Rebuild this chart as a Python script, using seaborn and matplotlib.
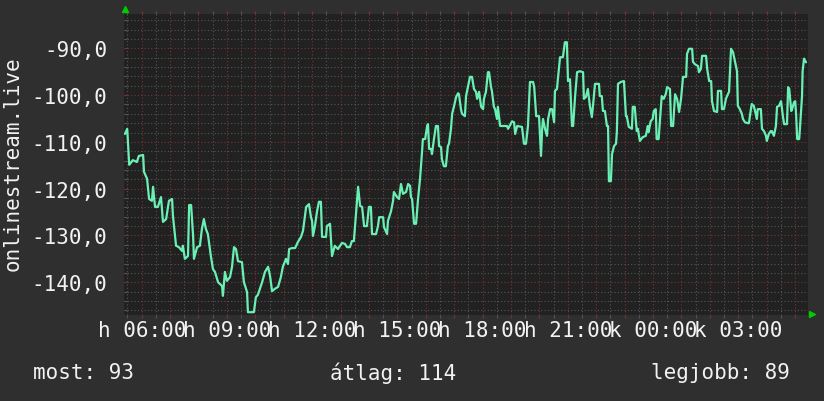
import numpy as np
import pandas as pd
import matplotlib
matplotlib.use("Agg")
import matplotlib.pyplot as plt
from matplotlib.ticker import MultipleLocator, FixedLocator
import seaborn as sns

# hours since midnight of the first day (24+ = next day)
hours = [
    5.41, 5.49, 5.56, 5.69, 5.83, 5.90, 6.05, 6.08, 6.19, 6.26, 6.36, 6.40, 6.47, 6.57,
    6.68, 6.75, 6.86, 6.96, 7.07, 7.10, 7.21, 7.31, 7.42, 7.45, 7.52, 7.63, 7.67, 7.74,
    7.81, 7.84, 7.95, 8.05, 8.12, 8.19, 8.26, 8.33, 8.44, 8.51, 8.58, 8.69, 8.83, 8.86,
    8.93, 9.00, 9.11, 9.18, 9.25, 9.32, 9.39, 9.53, 9.60, 9.71, 9.74, 9.95, 10.02, 10.09,
    10.24, 10.34, 10.45, 10.52, 10.59, 10.69, 10.80, 10.90, 10.97, 11.08, 11.15, 11.19,
    11.29, 11.40, 11.50, 11.61, 11.68, 11.79, 11.89, 11.96, 12.00, 12.03, 12.10, 12.17,
    12.24, 12.31, 12.35, 12.49, 12.52, 12.63, 12.70, 12.80, 12.91, 13.05, 13.16, 13.23,
    13.33, 13.40, 13.47, 13.54, 13.62, 13.69, 13.76, 13.83, 13.93, 14.00, 14.07, 14.11,
    14.25, 14.32, 14.36, 14.50, 14.53, 14.64, 14.67, 14.78, 14.85, 14.88, 14.99, 15.06,
    15.13, 15.20, 15.31, 15.38, 15.45, 15.48, 15.52, 15.59, 15.66, 15.73, 15.80, 15.87,
    15.90, 15.98, 16.05, 16.08, 16.12, 16.19, 16.22, 16.29, 16.36, 16.43, 16.47, 16.54,
    16.57, 16.64, 16.71, 16.78, 16.82, 16.89, 16.93, 17.00, 17.07, 17.14, 17.17, 17.24,
    17.28, 17.38, 17.42, 17.49, 17.56, 17.63, 17.70, 17.77, 17.81, 17.88, 17.95, 18.02,
    18.05, 18.12, 18.19, 18.23, 18.30, 18.33, 18.40, 18.44, 18.51, 18.54, 18.62, 18.86,
    18.90, 19.04, 19.11, 19.15, 19.22, 19.39, 19.46, 19.53, 19.60, 19.67, 19.78, 19.82,
    19.89, 19.99, 20.06, 20.10, 20.13, 20.20, 20.27, 20.31, 20.38, 20.45, 20.52, 20.55,
    20.62, 20.73, 20.83, 20.90, 20.97, 21.01, 21.08, 21.15, 21.19, 21.26, 21.33, 21.43,
    21.54, 21.57, 21.64, 21.71, 21.78, 21.85, 21.89, 21.96, 22.06, 22.10, 22.13, 22.20,
    22.24, 22.31, 22.38, 22.42, 22.45, 22.52, 22.56, 22.63, 22.70, 22.73, 22.77, 22.87,
    22.98, 23.05, 23.08, 23.15, 23.26, 23.29, 23.36, 23.43, 23.47, 23.54, 23.64, 23.75,
    23.82, 23.85, 23.92, 23.99, 24.03, 24.10, 24.13, 24.20, 24.27, 24.31, 24.38, 24.45,
    24.50, 24.60, 24.64, 24.71, 24.78, 24.85, 24.88, 24.92, 24.99, 25.06, 25.17, 25.20,
    25.27, 25.38, 25.41, 25.48, 25.59, 25.62, 25.69, 25.73, 25.87, 25.91, 25.98, 26.05,
    26.08, 26.15, 26.26, 26.29, 26.40, 26.43, 26.50, 26.57, 26.64, 26.68, 26.75, 26.82,
    26.89, 26.96, 26.99, 27.06, 27.13, 27.17, 27.24, 27.34, 27.38, 27.45, 27.48, 27.55,
    27.62, 27.66, 27.69, 27.80, 27.84, 27.91, 27.98, 28.01, 28.08, 28.15, 28.19, 28.26,
    28.33, 28.37, 28.44, 28.51, 28.58, 28.62, 28.72, 28.76, 28.80, 28.87, 28.90, 28.97,
    29.01, 29.04, 29.08, 29.15, 29.18, 29.25, 29.27, 29.32, 29.39,
]
values = [
    -108.3, -107.2, -114.9, -113.9, -114.3, -113.0, -112.8, -116.4, -117.9, -122.2, -122.6, -119.6, -123.9, -123.9,
    -121.8, -127.1, -126.5, -122.6, -122.2, -125.8, -132.2, -132.5, -133.3, -132.2, -135.0, -134.4, -123.5, -123.5,
    -130.1, -135.0, -132.5, -132.2, -128.6, -126.5, -128.6, -129.7, -134.6, -137.2, -137.8, -140.0, -140.8, -142.9,
    -137.8, -139.7, -138.9, -136.7, -132.5, -132.9, -135.5, -135.7, -140.0, -142.1, -146.4, -146.4, -143.2, -142.7,
    -140.0, -137.8, -136.7, -138.7, -141.9, -141.4, -141.0, -138.9, -136.7, -135.0, -136.1, -132.9,
    -132.7, -132.7, -131.4, -130.3, -129.0, -123.9, -123.3, -126.1, -126.9, -130.1, -128.0, -125.0,
    -122.8, -122.8, -130.3, -130.3, -128.0, -127.5, -134.4, -132.2, -132.9, -131.6, -131.8, -132.5,
    -132.5, -131.2, -131.2, -125.8, -119.6, -123.7, -123.9, -128.0, -128.0, -123.9, -123.9, -129.7,
    -129.7, -128.0, -126.1, -126.1, -128.2, -129.7, -126.9, -124.8, -122.6, -120.7, -121.8, -122.2,
    -119.0, -121.1, -120.7, -119.0, -119.4, -121.8, -122.2, -127.5, -127.5, -122.2, -117.9, -112.2,
    -109.4, -109.4, -106.6, -106.2, -111.5, -111.5, -112.6, -109.4, -106.6, -106.6, -110.9, -111.1,
    -113.7, -115.2, -115.2, -110.9, -110.4, -107.2, -104.0, -102.3, -100.4, -99.6, -99.8, -103.0,
    -104.0, -104.5, -100.2, -98.1, -96.1, -96.1, -98.7, -99.3, -100.8, -99.3, -102.5, -103.0,
    -100.8, -99.3, -95.1, -95.1, -98.3, -99.1, -102.5, -103.0, -105.1, -102.5, -106.6, -106.6,
    -107.2, -105.6, -105.8, -108.3, -106.6, -106.8, -110.4, -110.4, -106.6, -97.2, -97.2, -98.3,
    -104.5, -104.5, -113.0, -107.2, -105.1, -107.2, -108.7, -105.1, -103.0, -103.0, -105.8, -99.1,
    -98.7, -91.9, -91.9, -88.7, -88.7, -97.0, -96.6, -106.6, -106.6, -100.2, -95.1, -94.9,
    -95.1, -100.8, -100.4, -98.7, -102.3, -104.7, -102.3, -97.6, -97.6, -97.6, -100.2, -100.2,
    -103.4, -103.4, -106.6, -106.6, -118.4, -118.4, -112.6, -110.9, -110.4, -107.9, -97.6, -97.2,
    -97.0, -104.5, -104.5, -106.8, -107.2, -102.5, -102.5, -107.7, -107.2, -109.8, -109.0, -108.7,
    -106.6, -107.9, -105.6, -105.1, -103.4, -103.0, -109.4, -109.4, -103.4, -100.2, -100.8, -99.8,
    -98.3, -98.7, -106.6, -106.6, -99.8, -100.8, -101.9, -103.6, -100.8, -96.1, -96.1, -91.2,
    -90.1, -90.1, -92.9, -93.4, -93.8, -95.1, -94.4, -91.6, -91.6, -94.4, -97.0, -97.0,
    -101.3, -103.4, -103.6, -99.1, -99.1, -103.0, -103.0, -100.8, -99.8, -99.3, -90.1, -90.8,
    -92.9, -94.9, -102.3, -103.0, -104.0, -105.1, -105.8, -106.0, -106.0, -103.0, -101.9, -102.3,
    -104.0, -105.1, -103.0, -103.0, -107.2, -107.7, -108.7, -109.8, -108.3, -107.7, -107.7, -108.7,
    -106.6, -102.5, -102.3, -101.3, -104.7, -106.2, -106.2, -98.3, -98.7, -103.4, -103.0, -101.5,
    -101.3, -104.0, -109.4, -109.4, -106.8, -100.2, -94.9, -92.2, -93.0,
]

tick_hours = [6, 9, 12, 15, 18, 21, 24, 27]
tick_labels = ["h 06:00", "h 09:00", "h 12:00", "h 15:00",
               "h 18:00", "h 21:00", "k 00:00", "k 03:00"]
y_ticks = [-140, -130, -120, -110, -100, -90]

ylabel = "onlinestream.live"
footer_now = "most: 93"
footer_avg = "átlag: 114"
footer_best = "legjobb: 89"

df = pd.DataFrame({"hour": hours, "value": values})

sns.set_style("dark")
plt.rcParams['font.family'] = ['DejaVu Sans Mono', 'DejaVu Sans']

BG = "#2f2f2f"
CANVAS = "#212121"
MINOR = "#555555"
MAJOR = "#7a3434"
LINE = "#6af0b4"
TXT = "#f2f2f2"
ARROW = "#00cc00"

fig = plt.figure(figsize=(8.24, 4.02), dpi=100, facecolor=BG)
ax = fig.add_axes([124 / 824, 1 - 316 / 402, 684 / 824, 301.3 / 402])
ax.set_facecolor(CANVAS)

sns.lineplot(data=df, x="hour", y="value", ax=ax, color=LINE, linewidth=1.6,
             zorder=5, estimator=None, sort=False)

ax.set_xlim(5.377, 29.46)
ax.set_ylim(-147.0, -82.6)

ax.xaxis.set_major_locator(MultipleLocator(1))
ax.xaxis.set_minor_locator(MultipleLocator(0.5))
ax.yaxis.set_major_locator(MultipleLocator(10))
ax.yaxis.set_minor_locator(MultipleLocator(2))

ax.grid(False)
ax.grid(which="minor", color=MINOR, linestyle=(0, (1, 2)), linewidth=0.8)
ax.grid(which="major", color=MAJOR, linestyle=(0, (1, 2)), linewidth=0.8)

# hourly ticks only carry labels every three hours
hour_ticks = list(range(6, 30))
ax.set_xticks(hour_ticks)
ax.set_xticklabels([tick_labels[tick_hours.index(h)] if h in tick_hours else ""
                    for h in hour_ticks])
ax.set_yticks(np.arange(-140, -80, 10))
ax.set_yticklabels([f"{v:.1f}".replace(".", ",") for v in y_ticks])

ax.tick_params(axis="x", which="both", direction="out", length=2.2, width=0.8,
               top=True, bottom=True, pad=1.5, labelsize=15, labelcolor=TXT)
ax.tick_params(axis="x", which="major", color=MAJOR)
ax.tick_params(axis="x", which="minor", color=MINOR)
ax.tick_params(axis="y", which="both", direction="in", length=2, width=0.8,
               left=True, pad=12, labelsize=15, labelcolor=TXT)
ax.tick_params(axis="y", which="major", color=MAJOR)
ax.tick_params(axis="y", which="minor", color=MINOR)

for s in ax.spines.values():
    s.set_visible(False)
ax.set_xlabel("")
ax.set_ylabel("")

# rrdtool style arrows
ax.plot([0.0015], [1.014], marker="^", markersize=5, color=ARROW,
        transform=ax.transAxes, clip_on=False)
ax.plot([1.0065], [0.003], marker=">", markersize=5, color=ARROW,
        transform=ax.transAxes, clip_on=False)

fig.text(12.5 / 824, 1 - 164 / 402, ylabel, rotation=90, ha="center",
         va="center", fontsize=15, color=TXT)
fig.text(33 / 824, 1 - 373 / 402, footer_now, ha="left", va="center",
         fontsize=15, color=TXT)
fig.text(393 / 824, 1 - 373 / 402, footer_avg, ha="center", va="center",
         fontsize=15, color=TXT)
fig.text(790 / 824, 1 - 373 / 402, footer_best, ha="right", va="center",
         fontsize=15, color=TXT)

fig.savefig("out.png", dpi=100, facecolor=BG)
